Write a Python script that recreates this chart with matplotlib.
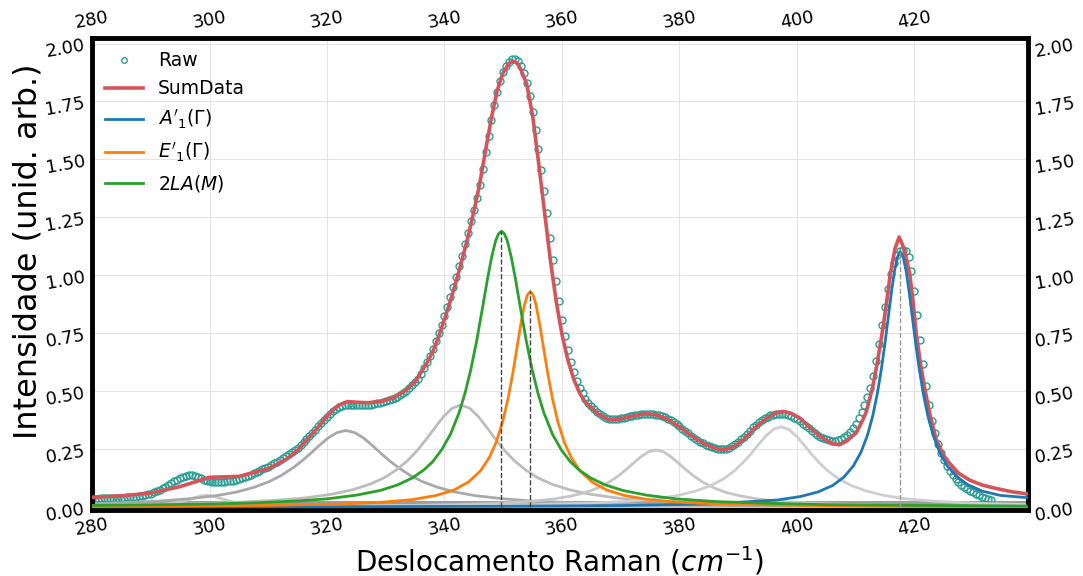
import numpy as np
import matplotlib
matplotlib.use('Agg')
from matplotlib import pyplot as plt

# measured spectrum (raw points, 0.5 cm-1 sampling from 280 to 433)
raw_x = np.arange(280, 433.25, 0.5)
raw_y = [
    0.036, 0.036, 0.036, 0.037, 0.037, 0.037, 0.038, 0.038, 0.038, 0.039,
    0.039, 0.040, 0.041, 0.042, 0.043, 0.044, 0.046, 0.048, 0.050, 0.054,
    0.058, 0.063, 0.068, 0.074, 0.080, 0.087, 0.095, 0.103, 0.110, 0.117,
    0.124, 0.130, 0.134, 0.136, 0.136, 0.134, 0.130, 0.124, 0.118, 0.113,
    0.110, 0.109, 0.108, 0.108, 0.108, 0.109, 0.110, 0.112, 0.114, 0.118,
    0.122, 0.126, 0.131, 0.135, 0.140, 0.145, 0.150, 0.156, 0.162, 0.168,
    0.174, 0.181, 0.188, 0.195, 0.202, 0.210, 0.218, 0.227, 0.236, 0.246,
    0.256, 0.268, 0.280, 0.293, 0.306, 0.320, 0.334, 0.348, 0.362, 0.376,
    0.390, 0.403, 0.415, 0.424, 0.432, 0.437, 0.440, 0.441, 0.442, 0.441,
    0.440, 0.440, 0.440, 0.440, 0.441, 0.442, 0.444, 0.447, 0.450, 0.453,
    0.456, 0.460, 0.464, 0.470, 0.476, 0.484, 0.492, 0.502, 0.512, 0.525,
    0.538, 0.554, 0.572,
    0.600, 0.625, 0.652, 0.682, 0.715, 0.750, 0.786, 0.824, 0.864, 0.905,
    0.948, 0.992, 1.038, 1.085, 1.133, 1.182, 1.232, 1.283, 1.335, 1.390,
    1.460, 1.530, 1.600, 1.670, 1.735, 1.792, 1.840, 1.878, 1.905, 1.922,
    1.932, 1.934, 1.926, 1.905, 1.872, 1.828, 1.772, 1.705, 1.628, 1.545,
    1.455, 1.362, 1.268, 1.160, 1.066, 0.976, 0.890, 0.808, 0.738, 0.678,
    0.626, 0.582, 0.545, 0.513,
    0.490, 0.468, 0.450, 0.435, 0.422, 0.410, 0.400, 0.392, 0.386, 0.380,
    0.378, 0.378, 0.379, 0.382, 0.385, 0.388, 0.391, 0.394, 0.397, 0.399,
    0.401, 0.402, 0.402, 0.402, 0.401, 0.399, 0.396, 0.392, 0.387, 0.381,
    0.374, 0.366, 0.357, 0.348, 0.338, 0.328, 0.318, 0.308, 0.299, 0.290,
    0.282, 0.274, 0.268, 0.262, 0.258, 0.254, 0.252, 0.250, 0.250, 0.252,
    0.256, 0.262, 0.270, 0.280, 0.292, 0.304, 0.317, 0.330, 0.343, 0.355,
    0.366, 0.376, 0.384, 0.390, 0.395, 0.398, 0.401, 0.402, 0.402, 0.400,
    0.397, 0.392, 0.386, 0.378, 0.370, 0.360, 0.350, 0.340, 0.330, 0.320,
    0.312, 0.304, 0.298, 0.292, 0.289, 0.286,
    0.286, 0.288, 0.292, 0.300, 0.310, 0.323, 0.340, 0.360, 0.384, 0.410,
    0.440, 0.475, 0.515, 0.565, 0.630, 0.705, 0.785, 0.865, 0.940, 1.005,
    1.055, 1.088, 1.105, 1.110, 1.105, 1.080, 1.020, 0.930, 0.830, 0.720,
    0.615, 0.520, 0.440, 0.372, 0.318, 0.272, 0.234, 0.203, 0.177, 0.155,
    0.137, 0.121, 0.108, 0.097,
    0.088, 0.078, 0.070, 0.063, 0.056, 0.050, 0.045, 0.040, 0.035, 0.031,
]

# fitted sum
sum_x = [280, 285, 290, 295, 300, 305, 310, 313, 315, 318, 320, 322, 323.5, 325, 327,
         329, 331, 333, 335, 337, 338, 339, 340, 341, 342, 343, 344, 345, 346, 347, 348,
         349, 350, 351, 351.7, 352.4, 353, 354, 355, 356, 357, 358, 359, 360, 361, 362,
         363, 364, 366, 368, 370, 372, 374, 376, 378, 380, 382, 384, 386, 387.5, 389, 391,
         393, 395, 396.5, 397.8, 399, 400.5, 402, 404, 406, 407.2, 408.5, 410.1, 411.2,
         411.8, 412.9, 413.7, 414.5, 415.2, 415.9, 416.7, 417.4, 418.2, 419.2, 419.8,
         420.3, 421, 421.7, 422.6, 423.7, 425, 426, 427.5, 429.4, 431.5, 433.9, 436.5, 439.3]
sum_y = [0.042, 0.048, 0.060, 0.088, 0.128, 0.132, 0.165, 0.205, 0.245, 0.330, 0.392, 0.440,
         0.455, 0.452, 0.450, 0.455, 0.468, 0.496, 0.540, 0.620, 0.670, 0.735, 0.810, 0.890,
         0.975, 1.068, 1.165, 1.275, 1.395, 1.540, 1.680, 1.800, 1.875, 1.915, 1.924, 1.915,
         1.888, 1.825, 1.690, 1.490, 1.280, 1.070, 0.890, 0.745, 0.635, 0.552, 0.492, 0.452,
         0.404, 0.376, 0.380, 0.392, 0.402, 0.398, 0.379, 0.346, 0.308, 0.275, 0.253, 0.247,
         0.257, 0.292, 0.345, 0.386, 0.407, 0.412, 0.404, 0.383, 0.348, 0.303, 0.274, 0.268,
         0.285, 0.320, 0.375, 0.410, 0.519, 0.625, 0.750, 0.870, 1.007, 1.115, 1.165, 1.118,
         1.007, 0.880, 0.750, 0.625, 0.519, 0.404, 0.292, 0.220, 0.188, 0.146, 0.116, 0.095,
         0.080, 0.066, 0.056]

# A'1(Gamma)
a1_x = [280, 320, 350, 370, 385, 396.6, 400.6, 403.6, 406.1, 408.0, 409.6, 410.9, 412.0,
        412.9, 413.7, 414.4, 415.0, 415.6, 416.1, 416.6, 417.1, 417.6, 418.1, 418.6, 419.1,
        419.6, 420.2, 420.8, 421.5, 422.3, 423.2, 424.3, 425.6, 427.2, 429.1, 431.6, 434.6,
        439.3]
a1_y = [0.001, 0.001, 0.003, 0.006, 0.013, 0.030, 0.045, 0.065, 0.093, 0.129, 0.177, 0.236,
        0.309, 0.392, 0.491, 0.599, 0.709, 0.829, 0.929, 1.017, 1.078, 1.100, 1.078, 1.017,
        0.929, 0.829, 0.709, 0.599, 0.491, 0.392, 0.309, 0.236, 0.177, 0.131, 0.096, 0.068,
        0.050, 0.040]

# E'1(Gamma)
e1_x = [280, 295, 310, 322.6, 329.6, 334.6, 338.6, 341.6, 344.1, 346.1, 347.6, 348.8, 349.9,
        350.8, 351.6, 352.3, 353.0, 353.6, 354.1, 354.6, 355.1, 355.6, 356.2, 356.9, 357.6,
        358.4, 359.3, 360.4, 361.6, 363.1, 365.1, 367.6, 370.6, 374.6, 379.6, 386.6, 400,
        420, 439.3]
e1_y = [0.002, 0.004, 0.007, 0.013, 0.021, 0.032, 0.050, 0.073, 0.108, 0.155, 0.212, 0.279,
        0.368, 0.465, 0.573, 0.681, 0.790, 0.870, 0.914, 0.930, 0.914, 0.870, 0.790, 0.681,
        0.573, 0.465, 0.368, 0.279, 0.212, 0.155, 0.108, 0.073, 0.050, 0.032, 0.021, 0.013,
        0.007, 0.003, 0.002]

# 2LA(M)
la_x = [280, 290, 300, 308, 315, 320, 325, 329, 332, 334.5, 336.5, 338, 339.5, 341, 342.5,
        343.5, 344.5, 345.5, 346.5, 347.3, 348, 348.7, 349.2, 349.7, 350.2, 350.7, 351.4,
        352.1, 352.9, 353.9, 354.9, 355.9, 356.9, 358.4, 359.9, 361.4, 362.9, 364.9, 367.4,
        370.4, 374.4, 379.4, 386.4, 395, 405, 420, 439.3]
la_y = [0.007, 0.009, 0.013, 0.018, 0.026, 0.035, 0.051, 0.071, 0.095, 0.125, 0.160, 0.196,
        0.246, 0.313, 0.408, 0.492, 0.595, 0.720, 0.863, 0.981, 1.075, 1.148, 1.179, 1.190,
        1.179, 1.148, 1.075, 0.981, 0.863, 0.720, 0.595, 0.492, 0.408, 0.313, 0.246, 0.196,
        0.160, 0.125, 0.095, 0.071, 0.051, 0.035, 0.023, 0.016, 0.010, 0.007, 0.004]

# other fitted bands (grey)
g1_x = [280, 284.5, 288.5, 291, 293, 294.5, 295.5, 296.5, 297.5, 298.5, 299.5, 300.5, 301.5,
        302.5, 303.5, 304.5, 306, 308, 310.5, 314.5, 319.5, 340, 439.3]
g1_y = [0.002, 0.003, 0.006, 0.009, 0.014, 0.020, 0.025, 0.032, 0.040, 0.047, 0.050, 0.047,
        0.040, 0.032, 0.025, 0.020, 0.014, 0.009, 0.006, 0.003, 0.002, 0.001, 0.0]
g2_x = [280, 283.2, 291.2, 296.7, 301.2, 304.7, 307.7, 310.2, 312.2, 314.2, 315.7, 317.2,
        318.7, 320.2, 321.7, 323.2, 324.7, 326.2, 327.7, 329.2, 330.7, 332.2, 334.2, 336.2,
        338.7, 341.7, 345.2, 349.7, 355.2, 363.2, 373.2, 388.2, 408.2, 439.3]
g2_y = [0.014, 0.017, 0.025, 0.036, 0.049, 0.065, 0.086, 0.110, 0.136, 0.169, 0.198, 0.231,
        0.266, 0.298, 0.321, 0.330, 0.321, 0.298, 0.266, 0.231, 0.198, 0.169, 0.136, 0.110,
        0.086, 0.065, 0.049, 0.036, 0.025, 0.017, 0.011, 0.007, 0.004, 0.002]
g3_x = [280, 292.8, 302.8, 310.8, 316.3, 320.8, 324.3, 327.3, 329.8, 331.8, 333.8, 335.3,
        336.8, 338.3, 339.8, 341.3, 342.8, 344.3, 345.8, 347.3, 348.8, 350.3, 351.8, 353.8,
        355.8, 358.3, 361.3, 364.8, 369.3, 374.8, 382.8, 392.8, 410, 439.3]
g3_y = [0.008, 0.012, 0.018, 0.028, 0.039, 0.055, 0.074, 0.098, 0.127, 0.160, 0.202, 0.242,
        0.289, 0.340, 0.389, 0.426, 0.440, 0.426, 0.389, 0.340, 0.289, 0.242, 0.202, 0.160,
        0.127, 0.098, 0.074, 0.055, 0.039, 0.028, 0.018, 0.012, 0.007, 0.003]
g4_x = [280, 306, 321, 334, 343, 350, 355, 358.5, 361.5, 364, 366.2, 368, 369.5, 370.8,
        372.1, 373.4, 374.7, 376, 377.3, 378.6, 379.9, 381.2, 382.5, 384, 385.8, 388, 390.5,
        393.5, 397, 402, 409, 418, 431, 439.3]
g4_y = [0.001, 0.002, 0.004, 0.007, 0.011, 0.017, 0.025, 0.034, 0.047, 0.062, 0.083, 0.107,
        0.132, 0.159, 0.188, 0.216, 0.238, 0.246, 0.238, 0.216, 0.188, 0.159, 0.132, 0.107,
        0.083, 0.062, 0.047, 0.034, 0.025, 0.017, 0.011, 0.007, 0.004, 0.003]
g5_x = [280, 307.3, 327.3, 342.3, 355.3, 364.3, 371.3, 376.3, 379.8, 382.8, 385.3, 387.5,
        389.3, 390.8, 392.1, 393.4, 394.7, 396, 397.3, 398.6, 399.9, 401.2, 402.5, 403.8,
        405.3, 407.1, 409.3, 411.8, 414.8, 418.3, 423.3, 430.3, 439.3]
g5_y = [0.001, 0.002, 0.004, 0.006, 0.010, 0.016, 0.025, 0.036, 0.050, 0.069, 0.092, 0.121,
        0.155, 0.191, 0.227, 0.268, 0.306, 0.335, 0.346, 0.335, 0.306, 0.268, 0.227, 0.191,
        0.155, 0.121, 0.092, 0.069, 0.050, 0.036, 0.025, 0.016, 0.010]

x_ticks = [280, 300, 320, 340, 360, 380, 400, 420]
y_ticks = [0.0, 0.25, 0.5, 0.75, 1.0, 1.25, 1.5, 1.75, 2.0]


def main():
    fig = plt.figure(figsize=(10.83, 5.76), dpi=100)
    ax = fig.add_axes([0.085, 0.1146, 0.864, 0.8195])

    ax.axhline(0.012, color='#9c9c9c', lw=5, zorder=1)

    ax.plot(raw_x, raw_y, 'o', mfc='none', mec='#2a9d92', ms=5, mew=1.0,
            label='Raw', zorder=2)
    ax.plot(sum_x, sum_y, color='#d4545a', lw=2.6, label='SumData', zorder=3)
    ax.plot(a1_x, a1_y, color='tab:blue', lw=2, label=r"$A'_1(\Gamma)$", zorder=3)
    ax.plot(e1_x, e1_y, color='tab:orange', lw=2, label=r"$E'_1(\Gamma)$", zorder=3)
    ax.plot(la_x, la_y, color='tab:green', lw=2, label=r'$2LA(M)$', zorder=3)

    greys = [(g1_x, g1_y, '#c8c8c8'), (g2_x, g2_y, '#a9a9a9'), (g3_x, g3_y, '#bdbdbd'),
             (g4_x, g4_y, '#c6c6c6'), (g5_x, g5_y, '#cecece')]
    for gx, gy, c in greys:
        ax.plot(gx, gy, color=c, lw=2, zorder=2.5)

    # dashed markers at the peak positions
    for px, py, c in [(la_x, la_y, '#444444'), (e1_x, e1_y, '#444444'), (a1_x, a1_y, '#999999')]:
        i = int(np.argmax(py))
        ax.vlines(px[i], 0, py[i], colors=c, linestyles='--', lw=1, zorder=4)

    ax.set_xlim(280, 439.3)
    ax.set_ylim(-0.013, 2.024)
    ax.set_xticks(x_ticks)
    ax.set_yticks(y_ticks)
    ax.set_yticklabels(['%.2f' % v for v in y_ticks])
    ax.tick_params(axis='both', length=0, labelsize=13, labelrotation=10, pad=4,
                   top=True, right=True, labeltop=True, labelright=True)
    ax.grid(True, color='#e4e4e4', lw=0.8)
    ax.set_axisbelow(True)
    for s in ax.spines.values():
        s.set_linewidth(3.5)
        s.set_color('black')

    ax.set_xlabel(r'Deslocamento Raman ($cm^{-1}$)', fontsize=20, labelpad=4)
    ax.set_ylabel('Intensidade (unid. arb.)', fontsize=23)
    ax.yaxis.set_label_coords(-0.052, 0.548)

    ax.legend(loc='upper left', frameon=False, fontsize=13.5, markerscale=0.8,
              borderaxespad=0.3)

    fig.savefig('out.png', dpi=100)


if __name__ == '__main__':
    main()
